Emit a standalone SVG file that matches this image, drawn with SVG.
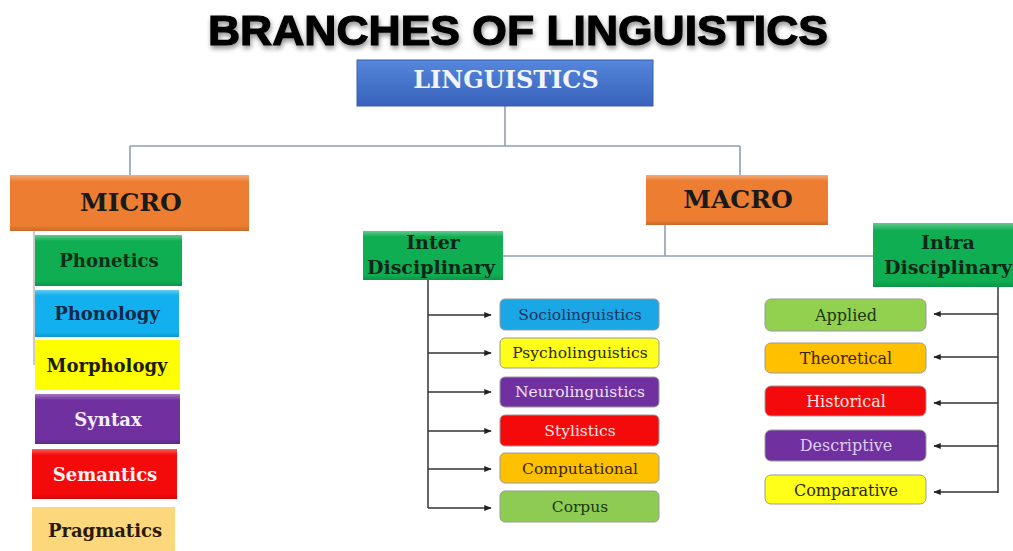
<svg xmlns="http://www.w3.org/2000/svg" width="1013" height="551" viewBox="0 0 1013 551">
<defs>
  <linearGradient id="gBlue" x1="0" y1="0" x2="0" y2="1">
    <stop offset="0" stop-color="#5587dc"/>
    <stop offset="1" stop-color="#3862bb"/>
  </linearGradient>
  <linearGradient id="gBevel" x1="0" y1="0" x2="0" y2="1">
    <stop offset="0" stop-color="#ffffff" stop-opacity="0.35"/>
    <stop offset="0.12" stop-color="#ffffff" stop-opacity="0"/>
    <stop offset="0.9" stop-color="#000000" stop-opacity="0"/>
    <stop offset="1" stop-color="#000000" stop-opacity="0.15"/>
  </linearGradient>
  <filter id="shadow" x="-10%" y="-30%" width="120%" height="160%">
    <feGaussianBlur in="SourceAlpha" stdDeviation="2.5"/>
    <feOffset dx="1" dy="3" result="b"/>
    <feComponentTransfer><feFuncA type="linear" slope="0.45"/></feComponentTransfer>
    <feMerge><feMergeNode/><feMergeNode in="SourceGraphic"/></feMerge>
  </filter>
  <marker id="arr" viewBox="0 0 10 10" refX="9" refY="5" markerWidth="5" markerHeight="5" orient="auto">
    <path d="M0,1 L10,5 L0,9 z" fill="#222"/>
  </marker>
</defs>
<style>
  .title{font-family:"Liberation Sans",Arial,sans-serif;font-weight:bold;font-size:43px;fill:#000;stroke:#000;stroke-width:1.2}
  .hd{font-family:"DejaVu Serif","Liberation Serif",serif;font-weight:bold;text-anchor:middle}
  .lb{font-family:"DejaVu Serif","Liberation Serif",serif;text-anchor:middle}
  .sq{stroke:none}
  .rb{stroke:#9a9a9a;stroke-width:1}
  .top{stroke:#8e9fb8;stroke-width:1.6;fill:none}
  .br{stroke:#333;stroke-width:1.5;fill:none}
  .mv{stroke:#a8a8a8;stroke-width:1.2;fill:none}
</style>
<rect width="1013" height="551" fill="#ffffff"/>

<text class="title" x="208" y="45" textLength="620" lengthAdjust="spacingAndGlyphs" filter="url(#shadow)">BRANCHES OF LINGUISTICS</text>

<g id="connectors">
  <path class="top" d="M505,106 V146 M130,146 H740 M130,146 V175 M740,146 V175"/>
  <path class="mv" d="M34,231 V365"/>
  <path class="top" d="M665,225 V256 M503,256 H873"/>
  <path class="br" d="M428,280 V508"/>
  <path class="br" marker-end="url(#arr)" d="M428,315 H491"/>
  <path class="br" marker-end="url(#arr)" d="M428,353 H491"/>
  <path class="br" marker-end="url(#arr)" d="M428,392 H491"/>
  <path class="br" marker-end="url(#arr)" d="M428,431 H491"/>
  <path class="br" marker-end="url(#arr)" d="M428,469 H491"/>
  <path class="br" marker-end="url(#arr)" d="M428,508 H491"/>
  <path class="br" d="M998,287 V493"/>
  <path class="br" marker-end="url(#arr)" d="M998,314 H934"/>
  <path class="br" marker-end="url(#arr)" d="M998,357 H934"/>
  <path class="br" marker-end="url(#arr)" d="M998,403 H934"/>
  <path class="br" marker-end="url(#arr)" d="M998,446 H934"/>
  <path class="br" marker-end="url(#arr)" d="M998,492 H934"/>
</g>

<g id="linguistics">
  <rect x="357" y="60" width="296" height="46" fill="url(#gBlue)" stroke="#3a5fa8" stroke-width="1"/>
  <text class="hd" x="506" y="88" font-size="24" fill="#f2f5fb">LINGUISTICS</text>
</g>

<g id="micro">
  <rect x="10" y="175" width="239" height="56" fill="#ed7d31"/>
  <rect x="10" y="175" width="239" height="56" fill="url(#gBevel)"/>
  <text class="hd" x="131" y="211" font-size="25" fill="#1a1a1a">MICRO</text>
</g>

<g id="macro">
  <rect x="646" y="175" width="182" height="50" fill="#ed7d31"/>
  <rect x="646" y="175" width="182" height="50" fill="url(#gBevel)"/>
  <text class="hd" x="738" y="208" font-size="25" fill="#1a1a1a">MACRO</text>
</g>

<g id="phonetics">
  <rect x="35" y="235" width="147" height="51" fill="#0fae52"/>
  <rect x="35" y="235" width="147" height="51" fill="url(#gBevel)"/>
  <text class="hd" x="109" y="267" font-size="18" fill="#0c2f17">Phonetics</text>
</g>
<g id="phonology">
  <rect x="35" y="290" width="144" height="47" fill="#12b0ee"/>
  <rect x="35" y="290" width="144" height="47" fill="url(#gBevel)"/>
  <text class="hd" x="107" y="320" font-size="18" fill="#10284a">Phonology</text>
</g>
<g id="morphology">
  <rect x="35" y="340" width="145" height="50" fill="#ffff00"/>
  <text class="hd" x="107" y="372" font-size="18" fill="#1c1c00">Morphology</text>
</g>
<g id="syntax">
  <rect x="35" y="394" width="145" height="50" fill="#7030a0"/>
  <rect x="35" y="394" width="145" height="50" fill="url(#gBevel)"/>
  <text class="hd" x="108" y="426" font-size="18" fill="#f4eefa">Syntax</text>
</g>
<g id="semantics">
  <rect x="32" y="449" width="145" height="50" fill="#f40a0a"/>
  <rect x="32" y="449" width="145" height="50" fill="url(#gBevel)"/>
  <text class="hd" x="105" y="481" font-size="18" fill="#fff4f4">Semantics</text>
</g>
<g id="pragmatics">
  <rect x="32" y="507" width="143" height="50" fill="#fcd77c"/>
  <text class="hd" x="105" y="537" font-size="18" fill="#2a1a05">Pragmatics</text>
</g>

<g id="inter">
  <rect x="363" y="231" width="140" height="49" fill="#0fae52"/>
  <rect x="363" y="231" width="140" height="49" fill="url(#gBevel)"/>
  <text class="hd" x="433" y="249" font-size="19" fill="#0c2617">Inter</text>
  <text class="hd" x="431" y="274" font-size="19" fill="#0c2617">Disciplinary</text>
</g>
<g id="intra">
  <rect x="873" y="223" width="145" height="64" fill="#0fae52"/>
  <rect x="873" y="223" width="145" height="64" fill="url(#gBevel)"/>
  <text class="hd" x="948" y="249" font-size="19" fill="#0c2617">Intra</text>
  <text class="hd" x="948" y="274" font-size="19" fill="#0c2617">Disciplinary</text>
</g>

<g id="sociolinguistics">
  <rect class="rb" x="500" y="299" width="159" height="31" rx="5" fill="#1ba6e6"/>
  <text class="lb" x="580" y="320" font-size="15.5" fill="#1b3360">Sociolinguistics</text>
</g>
<g id="psycholinguistics">
  <rect class="rb" x="500" y="338" width="159" height="30" rx="5" fill="#ffff1a"/>
  <text class="lb" x="580" y="358" font-size="15.5" fill="#2a2a05">Psycholinguistics</text>
</g>
<g id="neurolinguistics">
  <rect class="rb" x="500" y="377" width="159" height="30" rx="5" fill="#7030a0"/>
  <text class="lb" x="580" y="397" font-size="15.5" fill="#ece4f6">Neurolinguistics</text>
</g>
<g id="stylistics">
  <rect class="rb" x="500" y="415" width="159" height="31" rx="5" fill="#f40a0a"/>
  <text class="lb" x="580" y="436" font-size="15.5" fill="#ffe4e4">Stylistics</text>
</g>
<g id="computational">
  <rect class="rb" x="500" y="453" width="159" height="30" rx="5" fill="#ffc000"/>
  <text class="lb" x="580" y="474" font-size="15.5" fill="#3a2505">Computational</text>
</g>
<g id="corpus">
  <rect class="rb" x="500" y="491" width="159" height="31" rx="5" fill="#8ecb52"/>
  <text class="lb" x="580" y="512" font-size="15.5" fill="#1c3510">Corpus</text>
</g>

<g id="applied">
  <rect class="rb" x="765" y="299" width="161" height="32" rx="6" fill="#92d050"/>
  <text class="lb" x="846" y="321" font-size="16" fill="#1c3510">Applied</text>
</g>
<g id="theoretical">
  <rect class="rb" x="765" y="343" width="161" height="30" rx="6" fill="#ffc000"/>
  <text class="lb" x="846" y="364" font-size="16" fill="#3a2505">Theoretical</text>
</g>
<g id="historical">
  <rect class="rb" x="765" y="386" width="161" height="30" rx="6" fill="#f40a0a"/>
  <text class="lb" x="846" y="407" font-size="16" fill="#ffe4e4">Historical</text>
</g>
<g id="descriptive">
  <rect class="rb" x="765" y="430" width="161" height="31" rx="6" fill="#7030a0"/>
  <text class="lb" x="846" y="451" font-size="16" fill="#dccdf2">Descriptive</text>
</g>
<g id="comparative">
  <rect class="rb" x="765" y="475" width="161" height="29" rx="6" fill="#ffff1a"/>
  <text class="lb" x="846" y="496" font-size="16" fill="#2a2a05">Comparative</text>
</g>
</svg>
